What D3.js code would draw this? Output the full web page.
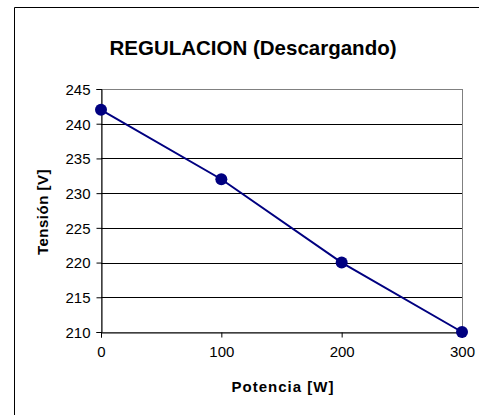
<!DOCTYPE html>
<html lang="es">
<head>
<meta charset="UTF-8">
<title>REGULACION (Descargando)</title>
<script src="https://d3js.org/d3.v7.min.js"></script>
<style>
  body { margin: 0; background: #fff; }
  svg text { font-family: "Liberation Sans", Arial, sans-serif; fill: #000; }
</style>
</head>
<body>
<div id="chart"></div>
<script>
// Datos
const potencia = [0, 100, 200, 300];
const tension = [242, 232, 220, 210];
const xTicks = [0, 100, 200, 300];
const yTicks = [210, 215, 220, 225, 230, 235, 240, 245];

const width = 479, height = 415;
const plot = { left: 101, right: 462, top: 89, bottom: 332 };

const svg = d3.select('#chart').append('svg')
  .attr('width', width)
  .attr('height', height);

// Marco exterior (solo se ve arriba y a la izquierda)
svg.append('path')
  .attr('d', `M14.5,${height} V7.5 H${width}`)
  .attr('fill', 'none')
  .attr('stroke', '#000')
  .attr('stroke-width', 1);

const x = d3.scaleLinear().domain([0, 300]).range([plot.left, plot.right]);
const y = d3.scaleLinear().domain([210, 245]).range([plot.bottom, plot.top]);

// Borde del área de trazado (gris)
svg.append('rect')
  .attr('x', plot.left + 0.5)
  .attr('y', plot.top + 0.5)
  .attr('width', plot.right - plot.left)
  .attr('height', plot.bottom - plot.top)
  .attr('fill', 'none')
  .attr('stroke', '#808080');

// Líneas de cuadrícula
svg.append('g')
  .selectAll('line')
  .data(yTicks.filter(d => d > 210 && d < 245))
  .join('line')
  .attr('x1', plot.left)
  .attr('x2', plot.right)
  .attr('y1', d => Math.round(y(d)) + 0.5)
  .attr('y2', d => Math.round(y(d)) + 0.5)
  .attr('stroke', '#000');

// Eje Y
const yAxis = svg.append('g')
  .attr('transform', `translate(${plot.left + 0.5},0)`)
  .call(d3.axisLeft(y).tickValues(yTicks).tickSize(5).tickPadding(6).tickFormat(d3.format('d')));
yAxis.selectAll('text').style('font-size', '15px').attr('dy', '0.36em');

// Eje X
const xAxis = svg.append('g')
  .attr('transform', `translate(0,${plot.bottom + 0.5})`)
  .call(d3.axisBottom(x).tickValues(xTicks).tickSize(5).tickPadding(9).tickFormat(d3.format('d')));
xAxis.selectAll('text').style('font-size', '15px');

svg.selectAll('.domain').attr('stroke', '#000');
svg.selectAll('.tick line').attr('stroke', '#000');

// Serie
const pts = potencia.map((p, i) => [p, tension[i]]);
svg.append('path')
  .datum(pts)
  .attr('fill', 'none')
  .attr('stroke', '#000080')
  .attr('stroke-width', 2)
  .attr('d', d3.line().x(d => x(d[0])).y(d => y(d[1])));

svg.append('g')
  .selectAll('circle')
  .data(pts)
  .join('circle')
  .attr('cx', d => x(d[0]))
  .attr('cy', d => y(d[1]))
  .attr('r', 6)
  .attr('fill', '#000080');

// Títulos
svg.append('text')
  .attr('x', 253)
  .attr('y', 55)
  .attr('text-anchor', 'middle')
  .style('font-size', '20.5px')
  .style('font-weight', 'bold')
  .text('REGULACION (Descargando)');

svg.append('text')
  .attr('x', 283)
  .attr('y', 392)
  .attr('text-anchor', 'middle')
  .style('font-size', '15px')
  .style('font-weight', 'bold')
  .style('letter-spacing', '1px')
  .text('Potencia [W]');

svg.append('text')
  .attr('transform', `translate(48,212) rotate(-90)`)
  .attr('text-anchor', 'middle')
  .style('font-size', '15px')
  .style('font-weight', 'bold')
  .style('letter-spacing', '0.5px')
  .text('Tensión [V]');
</script>
</body>
</html>
